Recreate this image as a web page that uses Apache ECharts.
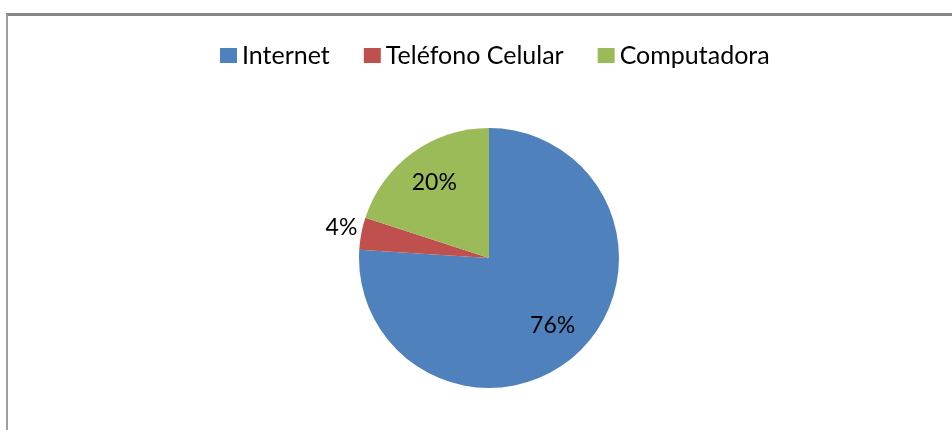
<!DOCTYPE html>
<html>
<head>
<meta charset="utf-8">
<script src="https://cdn.jsdelivr.net/npm/echarts@6/dist/echarts.min.js"></script>
<style>
html,body{margin:0;padding:0;background:#fff;}
#frame{position:absolute;left:6px;top:13px;width:946px;height:417px;border-top:3px solid #878787;border-left:2px solid #a0a0a0;box-sizing:border-box;}
#chart{position:absolute;left:0;top:0;width:952px;height:430px;}
</style>
</head>
<body>
<div id="frame"></div>
<div id="chart"></div>
<script>
const categories = ['Internet', 'Teléfono Celular', 'Computadora'];
const values = [76, 4, 20];
const colors = ['#4F81BD', '#C0504D', '#9BBB59'];
const labelPositions = ['inside', 'outside', 'inside'];

const FONT = 'Lato';
const chart = echarts.init(document.getElementById('chart'));

const colored = categories.map((c, i) => ({ name: c, value: values[i], itemStyle: { color: colors[i] } }));
const labelled = categories.map((c, i) => ({
  name: c, value: values[i],
  label: { position: labelPositions[i] },
  labelLine: { show: false, length: 4, length2: 0 }
}));

chart.setOption({
  animation: false,
  legend: {
    top: 38,
    left: 215,
    itemWidth: 17,
    itemHeight: 15,
    itemGap: 34,
    icon: 'rect',
    textStyle: { fontFamily: FONT, fontSize: 25, color: '#000' },
    data: categories
  },
  series: [
    {
      type: 'pie',
      center: [489, 258],
      radius: [0, 130],
      startAngle: 90,
      clockwise: true,
      silent: true,
      label: { show: false },
      labelLine: { show: false },
      itemStyle: { borderWidth: 0 },
      data: colored
    },
    {
      type: 'pie',
      center: [489, 258],
      radius: [50, 130],
      startAngle: 90,
      clockwise: true,
      silent: true,
      itemStyle: { color: 'rgba(0,0,0,0)', borderWidth: 0 },
      label: {
        show: true,
        formatter: '{d}%',
        fontFamily: FONT,
        fontSize: 23,
        color: '#000',
        distanceToLabelLine: 0
      },
      labelLine: { show: false },
      labelLayout: function (p) {
        return labelPositions[p.dataIndex] === 'outside' ? { dy: -5 } : {};
      },
      data: labelled
    }
  ]
});
</script>
</body>
</html>
